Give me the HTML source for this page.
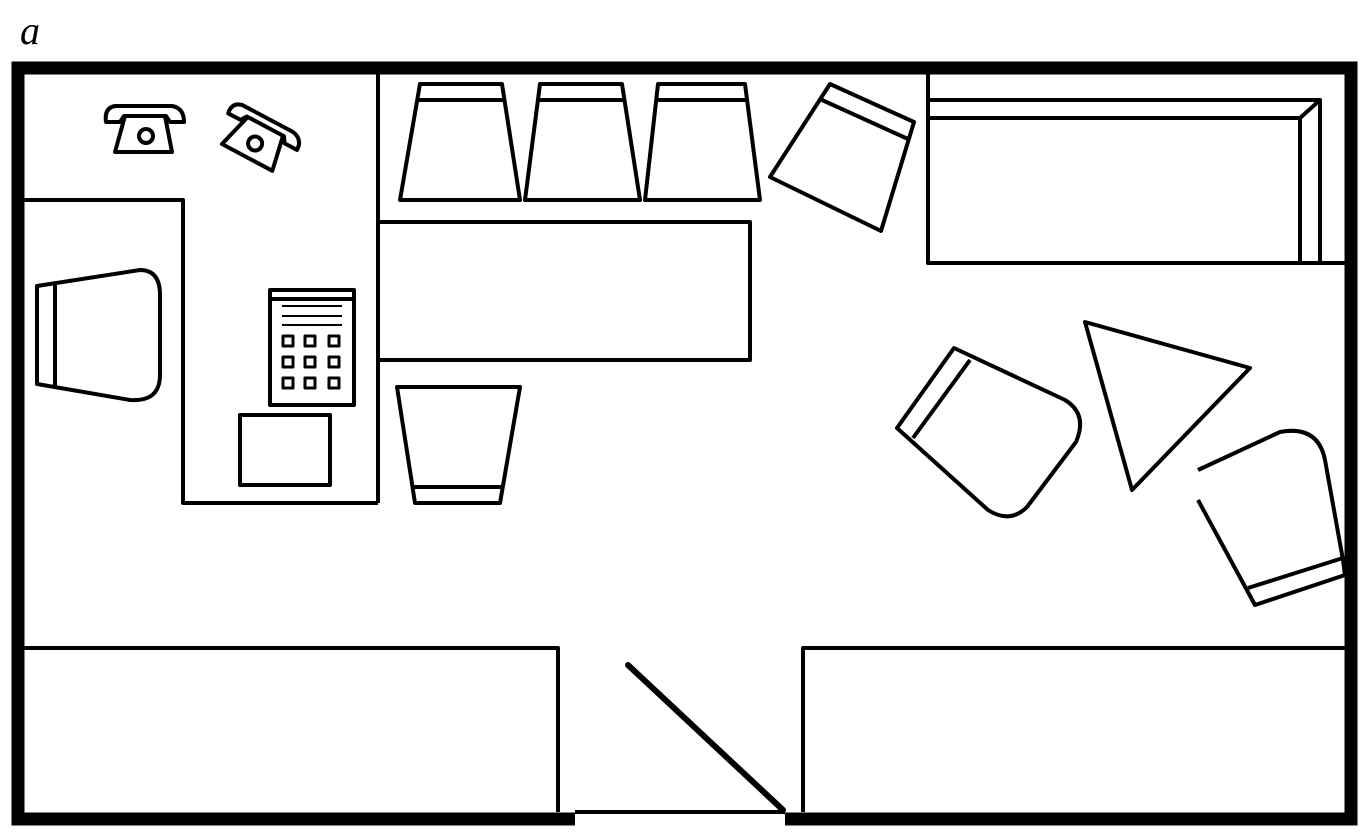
<!DOCTYPE html>
<html><head><meta charset="utf-8"><style>
html,body{margin:0;padding:0;background:#fff;width:1368px;height:835px;overflow:hidden}
svg{display:block}
</style></head><body>
<svg width="1368" height="835" viewBox="0 0 1368 835" xmlns="http://www.w3.org/2000/svg">
<text x="20" y="44" font-family="Liberation Serif, serif" font-style="italic" font-size="40">a</text>
<g fill="none" stroke="#000" stroke-linejoin="round">
<path d="M18,813 V68 H1351 V819 H785" stroke-width="13" stroke-linejoin="miter"/>
<path d="M18,813 V819 H575" stroke-width="13" stroke-linejoin="miter"/>
<line x1="575" y1="812" x2="785" y2="812" stroke-width="4"/>
<g stroke-width="4">
<line x1="378" y1="74" x2="378" y2="503"/>
<path d="M23,200 H183 V503 H378"/>
<path d="M106,122 Q104,108 115,106 H172 Q184,108 184,122 H170 L166,116 H124 L120,122 Z"/>
<path d="M125,116 L115,152 H172 L165,116"/>
<circle cx="146" cy="136" r="7"/>
<g transform="translate(255,148) rotate(28)">
<path d="M-40,-18 Q-42,-30 -31,-32 H26 Q38,-30 38,-18 H24 L20,-24 H-22 L-26,-18 Z"/>
<path d="M-21,-24 L-31,12 H26 L19,-24"/>
<circle cx="-2" cy="-4" r="7"/>
</g>
<path d="M37,286 L140,270 Q160,270 160,295 V375 Q160,402 130,400 L37,384 Z"/>
<line x1="55" y1="283" x2="55" y2="387"/>
<rect x="270" y="290" width="84" height="115"/>
<line x1="272" y1="299" x2="352" y2="299"/>
<line x1="282" y1="306" x2="342" y2="306" stroke-width="2"/>
<line x1="282" y1="316" x2="342" y2="316" stroke-width="2"/>
<line x1="282" y1="325" x2="342" y2="325" stroke-width="2"/>
<g stroke-width="3">
<rect x="283" y="336" width="10" height="10"/><rect x="305" y="336" width="10" height="10"/><rect x="329" y="336" width="10" height="10"/>
<rect x="283" y="357" width="10" height="10"/><rect x="305" y="357" width="10" height="10"/><rect x="329" y="357" width="10" height="10"/>
<rect x="283" y="378" width="10" height="10"/><rect x="305" y="378" width="10" height="10"/><rect x="329" y="378" width="10" height="10"/>
</g>
<rect x="240" y="415" width="90" height="70"/>
<path d="M420,84 H502 L520,200 H400 Z"/><line x1="418" y1="100" x2="505" y2="100"/>
<path d="M540,84 H622 L640,200 H525 Z"/><line x1="538" y1="100" x2="625" y2="100"/>
<path d="M658,84 H745 L760,200 H645 Z"/><line x1="656" y1="100" x2="748" y2="100"/>
<path d="M830,84 L914,122 L881,231 L770,177 Z"/>
<line x1="822" y1="100" x2="908" y2="139"/>
<rect x="378" y="222" width="372" height="138"/>
<path d="M397,387 H520 L500,503 H415 Z"/><line x1="413" y1="487" x2="502" y2="487"/>
<path d="M928,74 V263 H1345"/>
<path d="M928,100 H1320 V263"/>
<path d="M928,118 H1300 V263"/>
<line x1="1300" y1="118" x2="1320" y2="100"/>
<path d="M897,428 L954,348 L1065,400 Q1088,414 1076,442 L1027,507 Q1010,524 988,510 Z"/>
<line x1="913" y1="438" x2="970" y2="360"/>
<path d="M1085,322 L1250,368 L1132,490 Z"/>
<path d="M1198,470 L1280,432 Q1318,425 1325,460 L1343,560 L1345,575 L1255,605 L1198,500"/>
<line x1="1248" y1="588" x2="1343" y2="558"/>
<path d="M23,648 H558 V812"/>
<path d="M803,812 V648 H1345"/>
<line x1="628" y1="665" x2="783" y2="810" stroke-width="6" stroke-linecap="round"/>
</g>
</g>
</svg>
</body></html>
